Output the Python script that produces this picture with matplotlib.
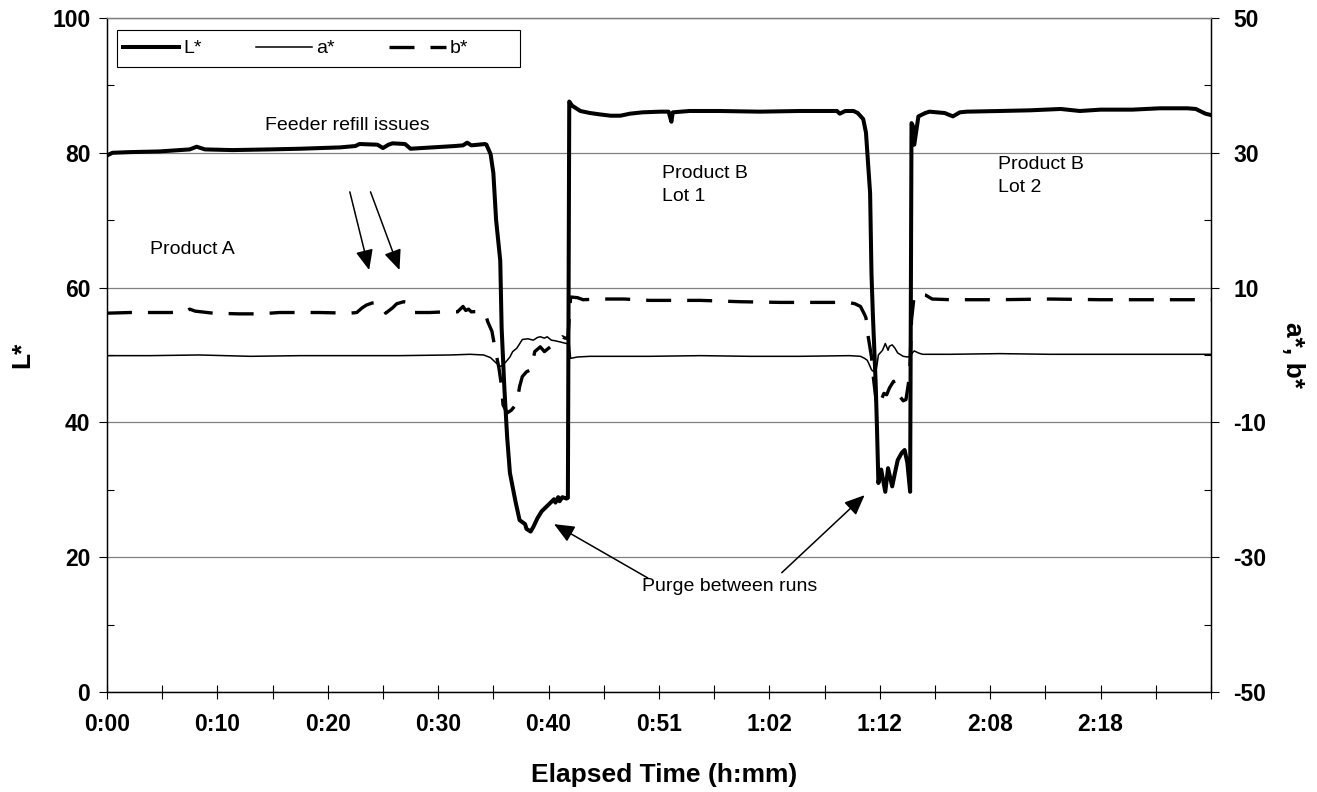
import matplotlib.pyplot as plt
from matplotlib.patches import Rectangle

plt.rcParams['font.family'] = ['Liberation Sans', 'DejaVu Sans']
plt.rcParams['axes.unicode_minus'] = False

# category axis: one label every 80 samples, ticks every 40
time_labels = ["0:00", "0:10", "0:20", "0:30", "0:40", "0:51", "1:02", "1:12", "2:08", "2:18"]
n_samples = 800
label_step = 80
tick_step = 40

# L* readings (sample number, value) - left axis
L_sample = [0, 4, 17, 38, 60, 65, 71, 91, 118, 140, 169, 180, 183, 196, 200, 204, 207, 216, 220,
            236, 252, 258, 261, 264, 274, 275, 278, 280, 282, 285, 286, 288, 290, 292, 296, 299,
            303, 304, 307, 309, 312, 315, 319, 322, 324, 325, 327, 328, 330, 333, 334, 335, 337,
            343, 350, 357, 365, 372, 379, 388, 401, 407, 409, 410, 422, 444, 473, 502, 529, 531,
            535, 541, 544, 548, 550, 551, 553, 554, 555, 557, 558, 559, 561, 564, 566, 569, 571,
            573, 576, 578, 580, 582, 583, 584, 585, 588, 593, 596, 607, 613, 618, 623, 647, 669,
            691, 705, 720, 743, 763, 783, 789, 792, 796, 800]
L_star = [79.6, 80.0, 80.1, 80.2, 80.5, 80.9, 80.5, 80.4, 80.5, 80.6, 80.8, 81.0, 81.3, 81.2, 80.7,
          81.2, 81.4, 81.3, 80.6, 80.8, 81.0, 81.1, 81.5, 81.1, 81.3, 81.2, 79.8, 77.0, 70.0, 64.0,
          54.0, 45.0, 37.8, 32.5, 28.3, 25.5, 24.9, 24.2, 23.8, 24.5, 25.8, 26.8, 27.6, 28.2, 28.6,
          28.1, 28.9, 28.3, 28.9, 28.7, 28.8, 87.6, 87.0, 86.2, 85.9, 85.7, 85.5, 85.5, 85.8, 86.0,
          86.1, 86.1, 84.6, 86.0, 86.2, 86.2, 86.1, 86.2, 86.2, 85.8, 86.2, 86.2, 85.9, 85.0, 83.0,
          80.0, 74.0, 62.0, 56.0, 46.0, 39.0, 31.0, 33.0, 29.7, 33.2, 30.5, 32.5, 34.4, 35.5, 35.9,
          34.0, 29.7, 84.4, 84.0, 81.2, 85.4, 85.9, 86.1, 85.9, 85.4, 86.0, 86.1, 86.2, 86.3, 86.5,
          86.2, 86.4, 86.4, 86.6, 86.6, 86.5, 86.2, 85.8, 85.6]

# a* readings - right axis
a_sample = [0, 31, 67, 104, 140, 176, 212, 249, 263, 273, 278, 281, 285, 287, 290, 292, 294, 297,
            301, 305, 309, 312, 314, 317, 319, 322, 325, 329, 333, 335, 336, 341, 350, 393, 430,
            466, 502, 538, 546, 549, 551, 553, 554, 557, 558, 559, 562, 564, 566, 567, 569, 571,
            573, 577, 580, 582, 584, 585, 588, 591, 611, 647, 683, 720, 756, 800]
a_star = [-0.1, -0.1, 0.0, -0.2, -0.1, -0.1, -0.1, 0.0, 0.1, 0.0, -0.4, -1.0, -1.7, -1.5, -0.8,
          -0.3, 0.5, 1.0, 2.3, 2.4, 2.2, 2.6, 2.7, 2.5, 2.7, 2.2, 2.1, 1.9, 1.7, 1.6, -0.5, -0.3,
          -0.2, -0.2, -0.1, -0.2, -0.2, -0.1, -0.2, -0.5, -0.8, -1.7, -2.2, -2.7, -1.5, 0.0, 0.7,
          1.7, 0.7, 1.3, 1.5, 1.0, 0.3, -0.2, -0.3, -0.2, 0.4, 0.6, 0.3, 0.1, 0.1, 0.2, 0.1, 0.1,
          0.1, 0.1]

# b* readings - right axis
b_sample = [0, 17, 46, 57, 60, 64, 77, 96, 111, 125, 154, 176, 181, 185, 188, 192, 196, 200, 202,
            207, 210, 215, 220, 223, 234, 245, 254, 258, 260, 262, 264, 272, 274, 276, 279, 281,
            284, 286, 287, 290, 293, 297, 299, 301, 304, 307, 309, 310, 314, 317, 320, 323, 327,
            330, 332, 334, 336, 341, 345, 357, 375, 393, 430, 459, 488, 524, 537, 542, 546, 549,
            550, 551, 554, 555, 557, 558, 561, 563, 565, 567, 570, 572, 577, 579, 581, 582, 583,
            585, 589, 593, 598, 611, 647, 683, 720, 756, 800]
b_star = [6.2, 6.3, 6.3, 6.4, 6.8, 6.5, 6.2, 6.1, 6.1, 6.3, 6.3, 6.2, 6.3, 7.0, 7.4, 7.7, 7.8, 7.0,
          6.2, 7.0, 7.6, 7.9, 7.7, 6.3, 6.3, 6.4, 6.4, 7.2, 6.6, 6.8, 6.4, 6.5, 6.2, 4.9, 3.5, 1.2,
          -1.9, -4.7, -7.4, -8.6, -8.2, -7.2, -4.7, -3.2, -2.5, -2.2, -0.5, 0.5, 1.2, 0.5, 1.0, 1.5,
          2.2, 2.7, 2.5, 2.5, 8.6, 8.5, 8.2, 8.3, 8.3, 8.1, 8.1, 7.9, 7.8, 7.8, 7.8, 7.6, 7.2, 6.0,
          5.5, 3.5, -0.3, -2.7, -6.2, -7.7, -6.7, -5.7, -5.9, -4.9, -3.9, -5.5, -6.8, -6.6, -3.9,
          -1.0, 5.2, 8.9, 9.0, 8.9, 8.3, 8.2, 8.2, 8.3, 8.2, 8.2, 8.2]

fig = plt.figure(figsize=(13.17, 7.92), dpi=100)
ax = fig.add_axes([0.0812, 0.1263, 0.8383, 0.851])
ax2 = ax.twinx()

line_L, = ax.plot(L_sample, L_star, color='black', lw=2.9, solid_joinstyle='round')
line_a, = ax2.plot(a_sample, a_star, color='black', lw=1.1)
line_b, = ax2.plot(b_sample, b_star, color='black', lw=2.4, dashes=(7.5, 4.8))

ax.set_xlim(0, n_samples)
ax.set_ylim(0, 100)
ax2.set_ylim(-50, 50)

# x ticks, labels on every other tick
xticks = list(range(0, n_samples + 1, tick_step))
xlabels = []
for t in xticks:
    k = t // label_step
    xlabels.append(time_labels[k] if t % label_step == 0 and k < len(time_labels) else "")
ax.set_xticks(xticks)
ax.set_xticklabels(xlabels)
ax.tick_params(axis='x', direction='inout', length=10, width=0.8, labelsize=16.5, pad=10)

ax.set_yticks(range(0, 101, 20))
ax.set_yticks(range(10, 100, 20), minor=True)
ax.tick_params(axis='y', which='major', direction='out', length=6, width=0.8, labelsize=16.5, pad=6)
ax.tick_params(axis='y', which='minor', direction='in', length=5, width=0.8)

ax2.set_yticks(range(-50, 51, 20))
ax2.set_yticks(range(-40, 41, 20), minor=True)
ax2.tick_params(axis='y', which='major', direction='out', length=6, width=0.8, labelsize=16.5, pad=10)
ax2.tick_params(axis='y', which='minor', direction='in', length=5, width=0.8)

for lbl in ax.get_xticklabels() + ax.get_yticklabels() + ax2.get_yticklabels():
    lbl.set_fontweight('bold')

ax.grid(axis='y', color='#808080', lw=0.9)
ax.set_axisbelow(True)
for a in (ax, ax2):
    a.spines['top'].set_color('#808080')
    a.spines['top'].set_linewidth(0.9)
    for s in ('left', 'right', 'bottom'):
        a.spines[s].set_linewidth(0.9)

ax.set_xlabel("Elapsed Time (h:mm)", fontsize=19, fontweight='bold')
ax.xaxis.set_label_coords(0.505, -0.105)
fig.text(22 / 1317, 1 - 355 / 792, "L*", rotation=90, ha='center', va='center',
         fontsize=19, fontweight='bold')
fig.text(1293 / 1317, 1 - 355 / 792, "a*, b*", rotation=270, ha='center', va='center',
         fontsize=19, fontweight='bold')

# legend: Excel-style box wider than its entries
ax2.add_patch(Rectangle((0.0091, 0.9273), 0.365, 0.0549, transform=ax2.transAxes,
                        facecolor='white', edgecolor='black', lw=0.8, zorder=4))
leg = ax2.legend([line_L, line_a, line_b], ["L*", "a*", "b*"], ncol=3, loc='center left',
                 bbox_to_anchor=(0.0091, 0.9547), frameon=False, fontsize=14,
                 handlelength=2.9, handletextpad=0.2, columnspacing=2.8, borderpad=0.3,
                 borderaxespad=0)
leg.set_zorder(5)

# annotations
arrow = dict(arrowstyle='-|>,head_length=0.65,head_width=0.28', color='black', lw=1.1,
             mutation_scale=19, shrinkA=0, shrinkB=0)
ax.text(31, 65.6, "Product A", fontsize=14, va='center', ha='left')
ax.text(174, 84.1, "Feeder refill issues", fontsize=14, va='center', ha='center')
ax.annotate("", xy=(190, 62.6), xytext=(176, 74.2), arrowprops=arrow)
ax.annotate("", xy=(212, 62.6), xytext=(191, 74.2), arrowprops=arrow)
ax.text(402, 75.2, "Product B\nLot 1", fontsize=14, va='center', ha='left', linespacing=1.45)
ax.text(646, 76.5, "Product B\nLot 2", fontsize=14, va='center', ha='left', linespacing=1.45)
ax.text(451, 15.7, "Purge between runs", fontsize=14, va='center', ha='center')
ax.annotate("", xy=(324, 24.9), xytext=(392, 16.9), arrowprops=arrow)
ax.annotate("", xy=(549, 29.2), xytext=(489, 17.7), arrowprops=arrow)

fig.savefig("out.png", dpi=100)
